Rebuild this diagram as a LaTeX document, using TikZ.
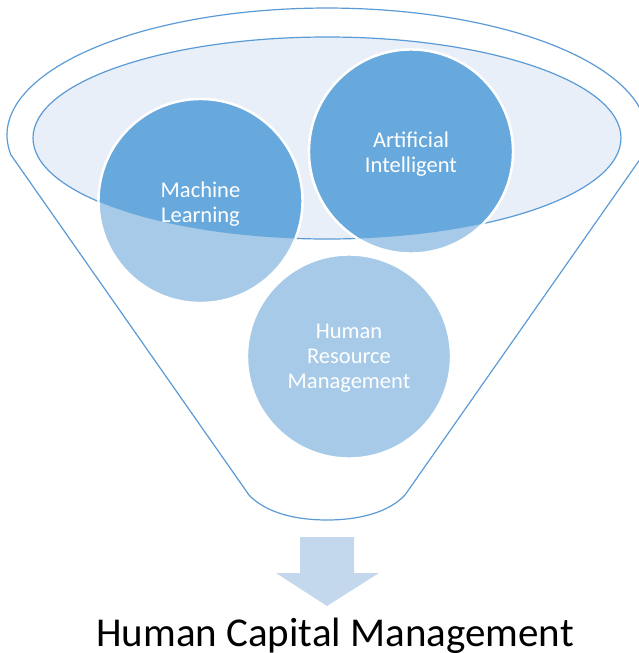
\documentclass[tikz,border=0pt]{standalone}
\usepackage{fontspec}
\setmainfont{Carlito}
\definecolor{edge}{HTML}{5B9BD5}
\definecolor{rimfill}{HTML}{E8EFF8}
\definecolor{balldark}{HTML}{67A9DC}
\definecolor{balllight}{HTML}{A6CAE7}
\definecolor{arrowfill}{HTML}{C4D8ED}
\tikzset{
  outline/.style={draw=edge, line width=1.2pt},
  ballrim/.style={draw=white, line width=2.4pt},
  balltext/.style={circle, minimum size=204pt, inner sep=0pt, align=center,
    text=white, font=\fontsize{22.5}{25}\selectfont},
  result/.style={inner sep=0pt, font=\fontsize{41}{48}\selectfont, text=black}
}
\begin{document}
\begin{tikzpicture}[x=1pt, y=1pt]
\useasboundingbox (0,0) rectangle (638,-653);

% ball centres
\coordinate (cml) at (200.5,-201);
\coordinate (cai) at (411,-151.5);
\coordinate (chr) at (349,-356.5);

% funnel body: top rim arc, straight sides, rounded spout
\draw[outline, fill=white]
  (11,-155) -- (249,-495)
  .. controls (266,-513) and (296,-520) .. (327,-520)
  .. controls (358,-520) and (388,-513) .. (405,-495)
  -- (643,-155)
  arc[start angle=-9.05, end angle=189.05, x radius=320, y radius=127]
  -- cycle;

% mouth of the funnel
\fill[rimfill] (327,-138) ellipse[x radius=294, y radius=101];
\draw[outline] (327,-138) ellipse[x radius=294, y radius=101];

% balls, light where they hang below the mouth
\foreach \c in {cml,cai,chr}
  \filldraw[fill=balllight, ballrim] (\c) circle (102);
\begin{scope}
  \clip (327,-138) ellipse[x radius=294, y radius=101];
  \foreach \c in {cml,cai}
    \filldraw[fill=balldark, ballrim] (\c) circle (102);
\end{scope}

% labels
\node[balltext] (ml) at ([yshift=-3pt]cml) {Machine\\Learning};
\node[balltext] (ai) at ([yshift=-3pt]cai) {Artificial\\Intelligent};
\node[balltext] (hr) at ([yshift=-2pt]chr) {Human\\Resource\\Management};

% outlet arrow
\fill[arrowfill] (300,-537) -- (354,-537) -- (354,-573) -- (379,-573)
  -- (327,-606) -- (276,-573) -- (300,-573) -- cycle;

\node[result, anchor=base] (hcm) at (335,-646) {Human Capital Management};
\end{tikzpicture}
\end{document}
